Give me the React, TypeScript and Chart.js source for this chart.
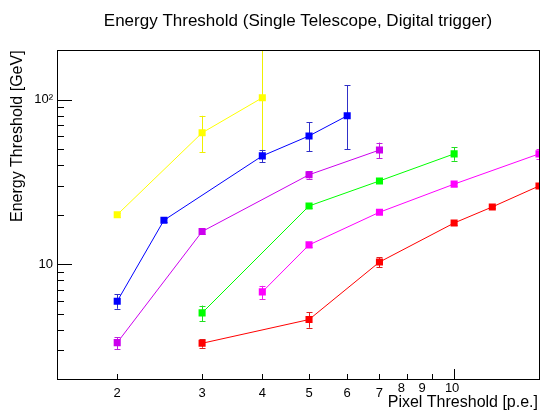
import React, { useEffect, useRef } from "react";
import { Chart, registerables } from "chart.js";

Chart.register(...registerables);

const TITLE = "Energy Threshold (Single Telescope, Digital trigger)";
const X_TITLE = "Pixel Threshold [p.e.]";
const Y_TITLE = "Energy Threshold [GeV]";

const X_MIN = 1.5;
const X_MAX = 15;
const Y_MIN = 2;
const Y_MAX = 200;

const xTickLabels = [2, 3, 4, 5, 6, 7, 8, 9, 10];
const xMinorTicks = [2, 3, 4, 5, 6, 7, 8, 9];
const xMajorTicks = [10];
const yMajorTicks = [10, 100];
const yMinorTicks = [3, 4, 5, 6, 7, 8, 9, 20, 30, 40, 50, 60, 70, 80, 90];
const yTickLabels = ["10", "10²"];

// Yellow series
const yellowX = [2, 3, 4];
const yellowY = [20, 63, 103];
const yellowLo = [0.5, 15, 57];
const yellowHi = [0.5, 17, 150];

// Blue series
const blueX = [2, 2.5, 4, 5, 6];
const blueY = [5.95, 18.5, 45.6, 60.3, 80];
const blueLo = [0.6, 0.5, 4, 11.5, 30];
const blueHi = [0.6, 0.5, 4, 13, 43];

// Violet series
const violetX = [2, 3, 5, 7];
const violetY = [3.33, 15.8, 35, 49.5];
const violetLo = [0.3, 0.5, 1.8, 5.5];
const violetHi = [0.27, 0.5, 1.8, 5.5];

// Green series
const greenX = [3, 5, 7, 10];
const greenY = [5.05, 22.6, 32.1, 46.9];
const greenLo = [0.55, 0.6, 1, 4.3];
const greenHi = [0.55, 0.6, 1, 4.7];

// Magenta series
const magentaX = [4, 5, 7, 10, 15];
const magentaY = [6.78, 13.1, 20.7, 30.7, 46.9];
const magentaLo = [0.65, 0.4, 0.5, 0.6, 3];
const magentaHi = [0.6, 0.4, 0.5, 0.6, 3.5];

// Red series
const redX = [3, 5, 7, 10, 12, 15];
const redY = [3.3, 4.6, 10.3, 17.8, 22.3, 29.9];
const redLo = [0.2, 0.5, 0.7, 0.4, 0.3, 0.6];
const redHi = [0.2, 0.5, 0.7, 0.4, 0.3, 0.6];

const FONT = '"Liberation Sans", Arial, Helvetica, sans-serif';

function makeSeries(xs: number[], ys: number[], lo: number[], hi: number[], color: string, errColor: string) {
  return {
    data: xs.map((x, i) => ({ x, y: ys[i] })),
    errLo: lo,
    errHi: hi,
    errColor,
    borderColor: color,
    backgroundColor: color,
    borderWidth: 1,
    showLine: true,
    pointStyle: "rect",
    pointRadius: 5,
    pointHoverRadius: 5,
    pointBorderWidth: 0,
    tension: 0,
  };
}

const errorBarPlugin = {
  id: "errorBars",
  beforeDatasetsDraw(chart: any) {
    const { ctx, chartArea, scales } = chart;
    ctx.save();
    ctx.beginPath();
    ctx.rect(chartArea.left, chartArea.top, chartArea.right - chartArea.left, chartArea.bottom - chartArea.top);
    ctx.clip();
    chart.data.datasets.forEach((ds: any) => {
      ctx.strokeStyle = ds.errColor;
      ctx.lineWidth = 1;
      ds.data.forEach((p: any, i: number) => {
        const px = Math.round(scales.x.getPixelForValue(p.x)) + 0.5;
        const yTop = scales.y.getPixelForValue(p.y + ds.errHi[i]);
        const yBot = scales.y.getPixelForValue(Math.max(p.y - ds.errLo[i], 1e-6));
        ctx.beginPath();
        ctx.moveTo(px, yTop);
        ctx.lineTo(px, yBot);
        ctx.moveTo(px - 3, Math.round(yTop) + 0.5);
        ctx.lineTo(px + 3, Math.round(yTop) + 0.5);
        ctx.moveTo(px - 3, Math.round(yBot) + 0.5);
        ctx.lineTo(px + 3, Math.round(yBot) + 0.5);
        ctx.stroke();
      });
    });
    ctx.restore();
  },
};

const framePlugin = {
  id: "rootFrame",
  afterDraw(chart: any) {
    const { ctx, chartArea, scales } = chart;
    const { left, right, top, bottom } = chartArea;
    ctx.save();
    ctx.strokeStyle = "#000";
    ctx.lineWidth = 1;
    ctx.strokeRect(Math.round(left) + 0.5, Math.round(top) + 0.5, Math.round(right - left), Math.round(bottom - top));

    ctx.beginPath();
    yMajorTicks.forEach((v) => {
      const y = Math.round(scales.y.getPixelForValue(v)) + 0.5;
      ctx.moveTo(left, y);
      ctx.lineTo(left + 15, y);
    });
    yMinorTicks.forEach((v) => {
      const y = Math.round(scales.y.getPixelForValue(v)) + 0.5;
      ctx.moveTo(left, y);
      ctx.lineTo(left + 7, y);
    });
    xMinorTicks.forEach((v) => {
      const x = Math.round(scales.x.getPixelForValue(v)) + 0.5;
      ctx.moveTo(x, bottom);
      ctx.lineTo(x, bottom - 5);
    });
    xMajorTicks.forEach((v) => {
      const x = Math.round(scales.x.getPixelForValue(v)) + 0.5;
      ctx.moveTo(x, bottom);
      ctx.lineTo(x, bottom - 10);
    });
    ctx.stroke();

    ctx.fillStyle = "#000";
    ctx.font = `13px ${FONT}`;
    ctx.textAlign = "center";
    ctx.textBaseline = "middle";
    xTickLabels.forEach((v) => {
      const x = scales.x.getPixelForValue(v);
      let dx = 0;
      let dy = 0;
      if (v === 8) { dx = -6; dy = -5; }
      if (v === 9) { dx = -10; dy = -5; }
      if (v === 10) { dx = -2; dy = -5; }
      ctx.fillText(String(v), x + dx, bottom + 14 + dy);
    });

    ctx.textAlign = "right";
    yMajorTicks.forEach((v, i) => {
      const y = scales.y.getPixelForValue(v);
      ctx.fillText(yTickLabels[i], left - 4, y);
    });

    ctx.font = `16px ${FONT}`;
    ctx.textAlign = "right";
    ctx.textBaseline = "middle";
    ctx.fillText(X_TITLE, right - 1, bottom + 24);

    ctx.save();
    ctx.translate(18, top);
    ctx.rotate(-Math.PI / 2);
    ctx.textAlign = "right";
    ctx.textBaseline = "middle";
    ctx.fillText(Y_TITLE, 0, 0);
    ctx.restore();

    ctx.restore();
  },
};

export default function App() {
  const canvasRef = useRef<HTMLCanvasElement | null>(null);

  useEffect(() => {
    if (!canvasRef.current) return;
    const chart = new Chart(canvasRef.current, {
      type: "scatter",
      data: {
        datasets: [
          makeSeries(yellowX, yellowY, yellowLo, yellowHi, "#ffff00", "#f0f000"),
          makeSeries(blueX, blueY, blueLo, blueHi, "#0000ff", "#3030c8"),
          makeSeries(violetX, violetY, violetLo, violetHi, "#cc00ee", "#c020e0"),
          makeSeries(greenX, greenY, greenLo, greenHi, "#00ff00", "#20e020"),
          makeSeries(magentaX, magentaY, magentaLo, magentaHi, "#ff00ff", "#f020f0"),
          makeSeries(redX, redY, redLo, redHi, "#ff0000", "#e02020"),
        ] as any,
      },
      options: {
        animation: false,
        responsive: false,
        layout: { padding: { left: 57, right: 2, top: 0, bottom: 33 } },
        scales: {
          x: { type: "logarithmic", min: X_MIN, max: X_MAX, display: false },
          y: { type: "logarithmic", min: Y_MIN, max: Y_MAX, display: false },
        },
        plugins: {
          legend: { display: false },
          tooltip: { enabled: false },
          title: {
            display: true,
            text: TITLE,
            fullSize: false,
            color: "#000",
            font: { family: FONT, size: 17, weight: "normal" },
            padding: { top: 11, bottom: 19 },
          },
        },
      } as any,
      plugins: [errorBarPlugin, framePlugin],
    });
    return () => chart.destroy();
  }, []);

  return (
    <div style={{ position: "absolute", left: 0, top: 0, width: 544, height: 412, background: "#fff" }}>
      <canvas ref={canvasRef} width={544} height={412} />
    </div>
  );
}
